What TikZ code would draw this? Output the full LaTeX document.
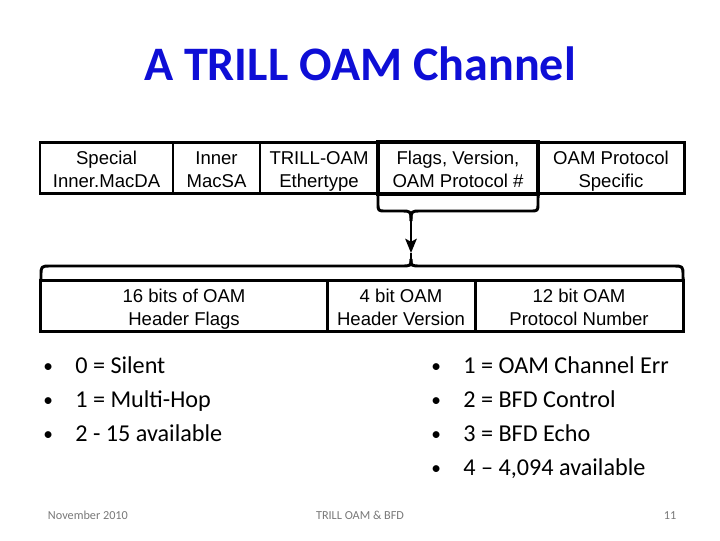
\documentclass[tikz,border=0pt]{standalone}
\usepackage{fontspec}
\setmainfont{Liberation Sans}
\newfontfamily\calibri{Carlito}
\usetikzlibrary{arrows.meta}

\definecolor{titleblue}{RGB}{14,14,214}
\definecolor{footgray}{RGB}{120,120,120}

\newcommand{\itemdot}{\raisebox{0.6pt}{\scalebox{0.8}{\textbullet}}}
\newcommand{\twolines}[2]{\begin{tabular}{@{}c@{}}\rule{0pt}{16pt}#1\\#2\end{tabular}}

\tikzset{
  cell/.style={draw, line width=2.1pt, inner sep=0pt, outer sep=0pt,
    font=\fontsize{13.2}{15.8}\selectfont},
  toprow/.style={cell, minimum height=1.25cm},
  lowrow/.style={cell, minimum height=1.2cm},
  brace/.style={line width=2.1pt, line join=round},
  bullets/.style={anchor=north west, inner sep=0pt, font=\calibri\fontsize{17.2}{24.2}\selectfont},
  footer/.style={anchor=base, text=footgray, font=\calibri\fontsize{8.7}{10}\selectfont}
}

\begin{document}
\begin{tikzpicture}[x=0.025cm, y=-0.025cm]
\useasboundingbox (0,0) rectangle (720,540);

% Title
\node[anchor=base, text=titleblue, font=\calibri\bfseries\fontsize{34.2}{38}\selectfont]
  (title) at (360,80) {A TRILL OAM Channel};

% Outer header fields
\node[toprow, minimum width=3.325cm] (macda) at (106.5,168) {\twolines{Special}{Inner.MacDA}};
\node[toprow, minimum width=2.175cm] (macsa) at (216.5,168) {\twolines{Inner}{MacSA}};
\node[toprow, minimum width=2.95cm]  (ethertype) at (319,168) {\twolines{TRILL-OAM}{Ethertype}};
\node[toprow, minimum width=3.65cm]  (specific) at (611,168) {\twolines{OAM Protocol}{Specific}};
\node[toprow, minimum width=4.0cm, line width=2.6pt] (flags) at (458,168) {\twolines{Flags, Version,}{OAM Protocol \#}};

% Expanded fields
\node[lowrow, minimum width=7.15cm] (hflags) at (184,306) {\twolines{16 bits of OAM}{Header Flags}};
\node[lowrow, minimum width=3.7cm]  (hversion) at (401,306) {\twolines{4 bit OAM}{Header Version}};
\node[lowrow, minimum width=5.2cm]  (protnum) at (579,306) {\twolines{12 bit OAM}{Protocol Number}};

% Braces
\coordinate (uptip) at (411,221);
\coordinate (arrowtip) at (411,253);
\coordinate (lowtip) at (411,259);
\draw[brace] (flags.south west) -- (378,203) .. controls (378,211) .. (386,211)
  -- (401,211) .. controls (411,211) .. (uptip);
\draw[brace] (flags.south east) -- (538,203) .. controls (538,211) .. (530,211)
  -- (421,211) .. controls (411,211) .. (uptip);
\draw[brace, -{Stealth[length=10pt, width=8pt, inset=2pt]}] (uptip) -- (arrowtip);
\draw[brace] (arrowtip) -- (lowtip);
\draw[brace] (hflags.north west) -- (41,276) .. controls (41,266) .. (51,266)
  -- (401,266) .. controls (411,266) .. (lowtip);
\draw[brace] (protnum.north east) -- (683,276) .. controls (683,266) .. (673,266)
  -- (421,266) .. controls (411,266) .. (lowtip);

% Value lists
\node[bullets] (flaglist) at (43,349) {%
  \begin{tabular}{@{}p{0.8cm}@{}l@{}}
  \itemdot & 0 = Silent\\
  \itemdot & 1 = Multi-Hop\\
  \itemdot & 2 - 15 available
  \end{tabular}};
\node[bullets] (protlist) at (431,349) {%
  \begin{tabular}{@{}p{0.8cm}@{}l@{}}
  \itemdot & 1 = OAM Channel Err\\
  \itemdot & 2 = BFD Control\\
  \itemdot & 3 = BFD Echo\\
  \itemdot & 4 \textendash{} 4,094 available
  \end{tabular}};

% Footer
\node[footer, anchor=base west] (date) at (43,519) {November 2010};
\node[footer] (topic) at (360,519) {TRILL OAM \& BFD};
\node[footer] (page) at (670,519) {11};

\end{tikzpicture}
\end{document}
